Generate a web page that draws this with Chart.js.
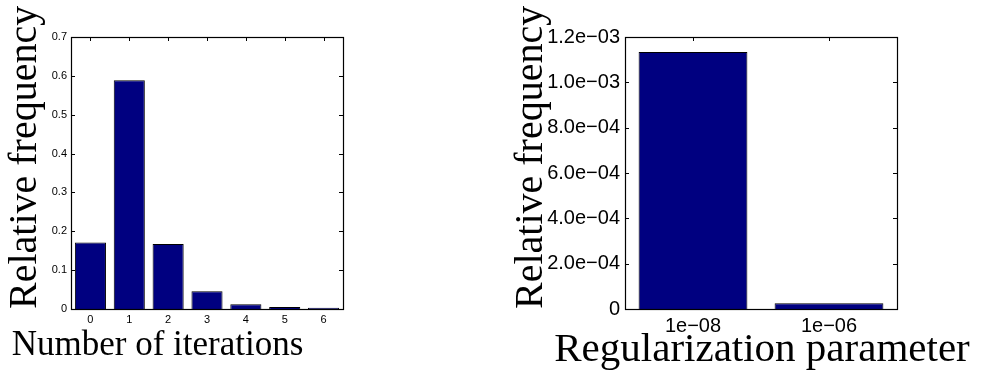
<!DOCTYPE html>
<html>
<head>
<meta charset="utf-8">
<script src="https://cdn.jsdelivr.net/npm/chart.js@4"></script>
<style>
  html, body { margin: 0; padding: 0; background: #fff; }
  body { width: 985px; height: 372px; position: relative; overflow: hidden; }
  .box { position: absolute; top: 0; height: 372px; }
  #b1 { left: 0; width: 360px; }
  #b2 { left: 500px; width: 485px; }
</style>
</head>
<body>
<div class="box" id="b1"><canvas id="c1"></canvas></div>
<div class="box" id="b2"><canvas id="c2"></canvas></div>
<script>
// ---- data ----
const iterCategories = ["0", "1", "2", "3", "4", "5", "6"];
const iterFrequency = [0.171, 0.589, 0.167, 0.0457, 0.012, 0.005, 0.003];
const iterYTicks = [0, 0.1, 0.2, 0.3, 0.4, 0.5, 0.6, 0.7];

const regCategories = ["1e\u221208", "1e\u221206"];
const regFrequency = [0.001134, 0.000025];
const regYTicks = [0, 0.0002, 0.0004, 0.0006, 0.0008, 0.001, 0.0012];

const yTitle = "Relative frequency";
const xTitle1 = "Number of iterations";
const xTitle2 = "Regularization parameter";

// ---- helpers ----
const BAR = "#000080";
const SERIF = "'Liberation Serif', 'Times New Roman', serif";
const SANS = "'Liberation Sans', Arial, Helvetica, sans-serif";

function expLabel(v) {
  if (Math.abs(v) < 1e-12) return "0";
  let s = Number(v).toExponential(1); // e.g. 1.2e-3
  let [m, e] = s.split("e");
  let sign = e[0] === "-" ? "\u2212" : "+";
  let digits = e.replace(/^[+-]/, "");
  if (digits.length < 2) digits = "0" + digits;
  return m + "e" + sign + digits;
}

// frame + inward ticks (MATLAB style)
const framePlugin = {
  id: "frame",
  afterDatasetsDraw(chart) {
    const { ctx, chartArea: a } = chart;
    const xs = chart.scales.x, ys = chart.scales.y;
    const L = 4;
    ctx.save();
    ctx.strokeStyle = "#000";
    ctx.lineWidth = 1;
    ctx.beginPath();
    xs.ticks.forEach((t, i) => {
      const x = Math.round(xs.getPixelForTick(i)) + 0.5;
      ctx.moveTo(x, a.top); ctx.lineTo(x, a.top + L);
    });
    ys.ticks.forEach((t, i) => {
      const y = Math.round(ys.getPixelForTick(i)) + 0.5;
      ctx.moveTo(a.left, y); ctx.lineTo(a.left + L, y);
      ctx.moveTo(a.right, y); ctx.lineTo(a.right - L, y);
    });
    ctx.stroke();
    ctx.lineWidth = 1.2;
    ctx.strokeRect(Math.round(a.left) + 0.5, Math.round(a.top) + 0.5,
                   Math.round(a.right - a.left), Math.round(a.bottom - a.top));
    ctx.restore();
  }
};

// x-axis title drawn below the axis
const xTitlePlugin = {
  id: "xtitle",
  afterDraw(chart, args, opts) {
    const { ctx, chartArea: a } = chart;
    ctx.save();
    ctx.fillStyle = "#000";
    ctx.font = opts.size + "px " + SERIF;
    ctx.textAlign = "center";
    ctx.textBaseline = "alphabetic";
    const cx = (a.left + a.right) / 2 + (opts.dx || 0);
    ctx.fillText(opts.text, cx, opts.y);
    ctx.restore();
  }
};

function makeChart(id, cats, vals, yticks, cfg) {
  const yMax = yticks[yticks.length - 1];
  return new Chart(document.getElementById(id), {
    type: "bar",
    data: {
      labels: cats,
      datasets: [{
        data: vals,
        backgroundColor: BAR,
        borderColor: "#000",
        borderWidth: 1,
        categoryPercentage: 1,
        barPercentage: 0.8
      }]
    },
    options: {
      responsive: true,
      maintainAspectRatio: false,
      animation: false,
      events: [],
      layout: { padding: { top: 37, right: cfg.padRight, left: 0, bottom: 0 } },
      plugins: {
        legend: { display: false },
        tooltip: { enabled: false },
        xtitle: { text: cfg.xTitle, size: cfg.xTitleSize, y: cfg.xTitleY, dx: cfg.xTitleDx }
      },
      scales: {
        x: {
          grid: { display: false, drawTicks: false },
          border: { display: false },
          ticks: {
            color: "#000",
            font: { family: SANS, size: cfg.tickSize },
            padding: cfg.xTickPad,
            maxRotation: 0,
            autoSkip: false
          },
          afterFit(s) { s.height = 63; }
        },
        y: {
          min: 0,
          max: yMax,
          grid: { display: false, drawTicks: false },
          border: { display: false },
          afterBuildTicks(s) { s.ticks = yticks.map(v => ({ value: v })); },
          ticks: {
            color: "#000",
            font: { family: SANS, size: cfg.tickSize },
            padding: cfg.yTickPad,
            callback: cfg.yFmt
          },
          title: {
            display: true,
            text: yTitle,
            align: "start",
            color: "#000",
            font: { family: SERIF, size: cfg.yTitleSize, lineHeight: 1 },
            padding: { top: cfg.yTitlePad, bottom: 0 }
          },
          afterFit(s) { s.width = cfg.yWidth; }
        }
      }
    },
    plugins: [framePlugin, xTitlePlugin]
  });
}

makeChart("c1", iterCategories, iterFrequency, iterYTicks, {
  padRight: 17, yWidth: 71, tickSize: 11, xTickPad: 4, yTickPad: 4,
  yFmt: v => (v === 0 ? "0" : Number(v).toFixed(1)),
  yTitleSize: 40, yTitlePad: 5,
  xTitle: xTitle1, xTitleSize: 35, xTitleY: 355, xTitleDx: -49.5
});

makeChart("c2", regCategories, regFrequency, regYTicks, {
  padRight: 88, yWidth: 125, tickSize: 20, xTickPad: 5, yTickPad: 5,
  yFmt: v => expLabel(v),
  yTitleSize: 40, yTitlePad: 11,
  xTitle: xTitle2, xTitleSize: 41, xTitleY: 361, xTitleDx: 1
});
</script>
</body>
</html>
